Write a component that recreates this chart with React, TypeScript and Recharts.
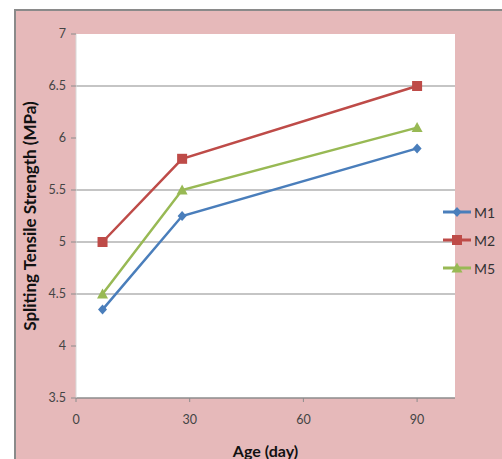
import { LineChart, Line, XAxis, YAxis, CartesianGrid, ReferenceLine, Legend, Label } from "recharts";

const ages = [7, 28, 90];
const m1 = [4.35, 5.25, 5.9];
const m2 = [5.0, 5.8, 6.5];
const m5 = [4.5, 5.5, 6.1];
const xTicks = [0, 30, 60, 90];
const yTicks = [3.5, 4, 4.5, 5, 5.5, 6, 6.5, 7];
const gridValues = [4.5, 5, 5.5, 6.5];

const data = ages.map((age, i) => ({ age, M1: m1[i], M2: m2[i], M5: m5[i] }));

const series = [
  { key: "M1", color: "#4a7ebb", shape: "diamond" },
  { key: "M2", color: "#be4b48", shape: "square" },
  { key: "M5", color: "#98b954", shape: "triangle" },
];

const FONT = "Lato, 'Open Sans', sans-serif";

function marker(shape: string, cx: number, cy: number, color: string, key?: any) {
  if (shape === "diamond") {
    return <path key={key} d={`M${cx},${cy - 5} L${cx + 4.5},${cy} L${cx},${cy + 5} L${cx - 4.5},${cy} Z`} fill={color} />;
  }
  if (shape === "square") {
    return <rect key={key} x={cx - 5} y={cy - 5} width={10} height={10} fill={color} />;
  }
  return <path key={key} d={`M${cx},${cy - 5.5} L${cx + 5.5},${cy + 4.5} L${cx - 5.5},${cy + 4.5} Z`} fill={color} />;
}

// zero-width wrapper so the legend does not shrink the plot area
const renderLegend = () => (
  <div style={{ fontFamily: FONT, fontSize: 14, color: "#333", width: 60, whiteSpace: "nowrap" }}>
    {series.map((s) => (
      <div key={s.key} style={{ display: "flex", alignItems: "center", height: 28 }}>
        <svg width={30} height={14}>
          <line x1={0} y1={7} x2={28} y2={7} stroke={s.color} strokeWidth={3} />
          {marker(s.shape, 14, 7, s.color)}
        </svg>
        <span style={{ marginLeft: 1 }}>{s.key}</span>
      </div>
    ))}
  </div>
);

export default function App() {
  return (
    <div style={{ position: "absolute", left: 0, top: 0, width: 502, height: 459, background: "#fff", overflow: "hidden" }}>
      <div
        style={{
          position: "absolute",
          left: 14,
          top: 9,
          width: 500,
          height: 460,
          background: "#e6b9ba",
          borderLeft: "2px solid #8a8a8a",
          borderTop: "2px solid #8a8a8a",
        }}
      />
      <div style={{ position: "absolute", left: 0, top: 0 }}>
        <LineChart width={502} height={459} data={data} margin={{ top: 34, right: 47, bottom: 0, left: 0 }}>
          <CartesianGrid fill="#ffffff" horizontal={false} vertical={false} stroke="none" />
          {gridValues.map((v) => (
            <ReferenceLine key={v} y={v} stroke="#8c8c8c" strokeWidth={1.2} />
          ))}
          <XAxis
            dataKey="age"
            type="number"
            domain={[0, 100]}
            ticks={xTicks}
            height={61}
            axisLine={{ stroke: "#8c8c8c", strokeWidth: 1.5 }}
            tickLine={{ stroke: "#8c8c8c" }}
            tickSize={4}
            tickMargin={13}
            tick={{ fill: "#444", fontSize: 12.5, fontFamily: FONT }}
          >
            <Label
              value="Age (day)"
              position="insideBottom"
              offset={2}
              style={{ fontFamily: FONT, fontSize: 16, fontWeight: "bold", fill: "#111" }}
            />
          </XAxis>
          <YAxis
            type="number"
            domain={[3.5, 7]}
            ticks={yTicks}
            width={76}
            axisLine={{ stroke: "#d8d8d8" }}
            tickLine={{ stroke: "#8c8c8c" }}
            tickSize={5}
            tickMargin={5}
            tick={{ fill: "#444", fontSize: 12.5, fontFamily: FONT }}
          >
            <Label
              content={({ viewBox }: any) => {
                const cy = viewBox.y + viewBox.height / 2;
                return (
                  <text
                    x={29}
                    y={cy}
                    transform={`rotate(-90, 29, ${cy})`}
                    textAnchor="middle"
                    dominantBaseline="central"
                    style={{ fontFamily: FONT, fontSize: 17, fontWeight: "bold", fill: "#111" }}
                  >
                    Spliting Tensile Strength (MPa)
                  </text>
                );
              }}
            />
          </YAxis>
          {series.map((s) => (
            <Line
              key={s.key}
              dataKey={s.key}
              stroke={s.color}
              strokeWidth={2.5}
              isAnimationActive={false}
              dot={(p: any) => marker(s.shape, p.cx, p.cy, s.color, p.key ?? `${s.key}-${p.index}`)}
              activeDot={false}
            />
          ))}
          <Legend
            layout="horizontal"
            verticalAlign="middle"
            align="right"
            content={renderLegend}
            wrapperStyle={{ position: "absolute", left: 443, top: 198, width: 0, height: 0, overflow: "visible" }}
          />
        </LineChart>
      </div>
    </div>
  );
}
